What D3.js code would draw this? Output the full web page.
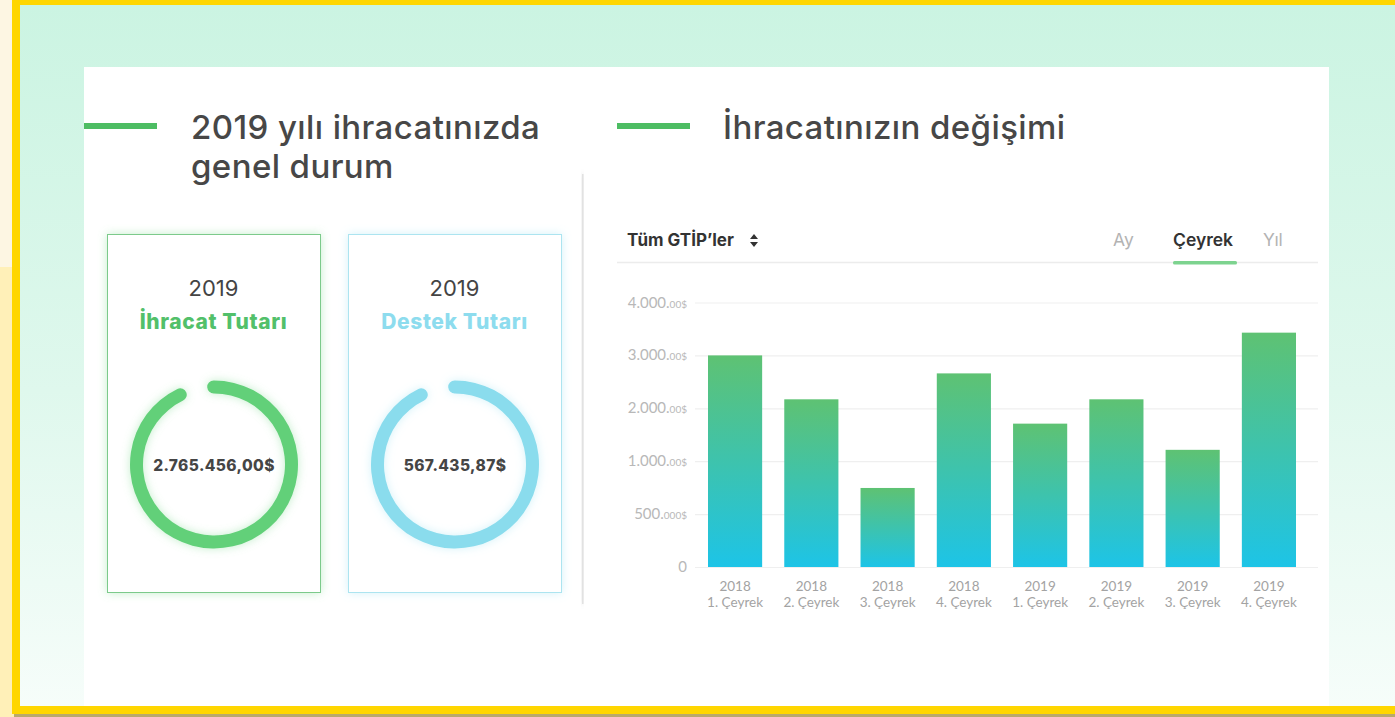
<!DOCTYPE html>
<html lang="tr">
    <head>
        <meta charset="utf-8">
        <title>İhracat</title>
        <script src="https://d3js.org/d3.v7.min.js"></script>
        <style type="text/css">
            body { margin: 0; overflow: hidden; }
            svg { display: block; }
        </style>
    </head>
    <body>
        <script type="text/javascript">

            //consts
            const w = 1395;
            const h = 717;
            const titleFont = "Inter, 'Noto Sans', sans-serif";
            const labelFont = "Lato, 'Open Sans', sans-serif";

            //data
            const years = ["2018", "2018", "2018", "2018", "2019", "2019", "2019", "2019"];
            const quarters = ["1. Çeyrek", "2. Çeyrek", "3. Çeyrek", "4. Çeyrek", "1. Çeyrek", "2. Çeyrek", "3. Çeyrek", "4. Çeyrek"];
            const values = [3000, 2170, 747, 2660, 1710, 2170, 1215, 3430]; // thousand $
            const tickValues = [0, 500, 1000, 2000, 3000, 4000];
            const tickMain = ["0", "500.", "1.000.", "2.000.", "3.000.", "4.000."];
            const tickSmall = ["", "000$", "00$", "00$", "00$", "00$"];
            const cardYear = ["2019", "2019"];
            const cardTitles = ["İhracat Tutarı", "Destek Tutarı"];
            const cardValues = ["2.765.456,00$", "567.435,87$"];
            const tabs = ["Ay", "Çeyrek", "Yıl"];

            const svg = d3.select("body")
                    .append("svg")
                    .attr("width", w)
                    .attr("height", h);

            const defs = svg.append("defs");

            const bgGrad = defs.append("linearGradient")
                    .attr("id", "bg").attr("x1", 0).attr("y1", 0).attr("x2", 0).attr("y2", 1);
            bgGrad.append("stop").attr("offset", "0%").attr("stop-color", "#cbf4e2");
            bgGrad.append("stop").attr("offset", "55%").attr("stop-color", "#dff8ed");
            bgGrad.append("stop").attr("offset", "100%").attr("stop-color", "#f6fdfa");

            const barGrad = defs.append("linearGradient")
                    .attr("id", "barGrad").attr("x1", 0).attr("y1", 0).attr("x2", 0).attr("y2", 1);
            barGrad.append("stop").attr("offset", "0%").attr("stop-color", "#5ec273");
            barGrad.append("stop").attr("offset", "100%").attr("stop-color", "#1dc4e7");

            //glow filters
            function glow(id, color, dev, op) {
                const f = defs.append("filter").attr("id", id)
                        .attr("x", "-30%").attr("y", "-30%").attr("width", "160%").attr("height", "160%");
                f.append("feGaussianBlur").attr("in", "SourceAlpha").attr("stdDeviation", dev).attr("result", "b");
                f.append("feFlood").attr("flood-color", color).attr("flood-opacity", op);
                f.append("feComposite").attr("in2", "b").attr("operator", "in").attr("result", "s");
                const m = f.append("feMerge");
                m.append("feMergeNode").attr("in", "s");
                m.append("feMergeNode").attr("in", "SourceGraphic");
            }
            glow("glowGreen", "#7dd98f", 5, 0.45);
            glow("glowBlue", "#9fe3f2", 5, 0.45);
            glow("shadow", "#aaaaaa", 2.5, 0.6);

            //frame + background
            svg.append("rect").attr("width", w).attr("height", h).attr("fill", "#fdf6e3");
            svg.append("rect").attr("x", 0).attr("y", 267).attr("width", 14).attr("height", h - 267).attr("fill", "#fff0b8");
            svg.append("rect").attr("x", 20).attr("y", 5).attr("width", w - 20).attr("height", 701).attr("fill", "url(#bg)");
            svg.append("rect").attr("x", 12).attr("y", 0).attr("width", w - 12).attr("height", 5).attr("fill", "#ffd600");
            svg.append("rect").attr("x", 12).attr("y", 0).attr("width", 8).attr("height", 714).attr("fill", "#ffd600");
            svg.append("rect").attr("x", 12).attr("y", 706).attr("width", w - 12).attr("height", 8).attr("fill", "#ffd600");
            svg.append("rect").attr("x", 14).attr("y", 714).attr("width", w - 14).attr("height", 3).attr("fill", "#b9a96c");

            //white panel
            svg.append("rect").attr("x", 84).attr("y", 67).attr("width", 1245).attr("height", 639).attr("fill", "#ffffff");

            //left column edge shadow
            svg.append("rect").attr("x", 582).attr("y", 174).attr("width", 1.5).attr("height", 430)
               .attr("fill", "#e2e2e2").attr("filter", "url(#shadow)");

            //section titles
            const titles = svg.append("g").attr("font-family", titleFont).attr("font-weight", 500)
                    .attr("font-size", 33).attr("letter-spacing", 0.4).attr("fill", "#474747");
            svg.append("rect").attr("x", 84).attr("y", 123).attr("width", 73).attr("height", 6).attr("fill", "#4dbd63");
            svg.append("rect").attr("x", 617).attr("y", 123).attr("width", 73).attr("height", 6).attr("fill", "#4dbd63");
            titles.append("text").attr("x", 191).attr("y", 139).text("2019 yılı ihracatınızda");
            titles.append("text").attr("x", 191).attr("y", 178).text("genel durum");
            titles.append("text").attr("x", 723).attr("y", 139).text("İhracatınızın değişimi");

            //cards
            const cardX = [107, 348];
            const cardW = 213;
            const cardStroke = ["#7cca8b", "#ace4f0"];
            const cardText = ["#52c06a", "#8ddcee"];
            const ringColor = ["#62d079", "#8adced"];
            const glows = ["glowGreen", "glowBlue"];

            const arc = d3.arc()
                    .innerRadius(71)
                    .outerRadius(84)
                    .cornerRadius(6.5)
                    .startAngle(-5 * Math.PI / 180)
                    .endAngle(339 * Math.PI / 180);

            const cards = svg.selectAll("g.card")
                    .data(cardTitles)
                    .enter()
                    .append("g")
                    .attr("class", "card")
                    .attr("transform", (d, i) => "translate(" + cardX[i] + ",234)");

            cards.append("rect")
                 .attr("x", 0.5).attr("y", 0.5)
                 .attr("width", cardW).attr("height", 358)
                 .attr("fill", "#ffffff")
                 .attr("stroke", (d, i) => cardStroke[i])
                 .attr("filter", (d, i) => "url(#" + glows[i] + ")");

            cards.append("text")
                 .attr("x", cardW / 2).attr("y", 62)
                 .attr("text-anchor", "middle")
                 .attr("font-family", titleFont).attr("font-size", 22)
                 .attr("fill", "#444").text((d, i) => cardYear[i]);

            cards.append("text")
                 .attr("x", cardW / 2).attr("y", 95)
                 .attr("text-anchor", "middle")
                 .attr("font-family", titleFont).attr("font-weight", 800).attr("font-size", 21)
                 .attr("letter-spacing", 0.6)
                 .attr("fill", (d, i) => cardText[i]).text(d => d);

            cards.append("path")
                 .attr("transform", "translate(" + (cardW / 2 + 0.5) + ",230.5)")
                 .attr("d", arc())
                 .attr("fill", (d, i) => ringColor[i])
                 .attr("filter", (d, i) => "url(#" + glows[i] + ")");

            cards.append("text")
                 .attr("x", cardW / 2 + 0.5).attr("y", 237)
                 .attr("text-anchor", "middle")
                 .attr("font-family", titleFont).attr("font-weight", 800).attr("font-size", 15.5)
                 .attr("letter-spacing", 0.4)
                 .attr("fill", "#454545").text((d, i) => cardValues[i]);

            //chart header
            svg.append("text").attr("x", 627).attr("y", 246)
               .attr("font-family", titleFont).attr("font-weight", 700).attr("font-size", 17)
               .attr("fill", "#333").text("Tüm GTİP’ler");
            svg.append("path").attr("d", "M750,239 L754,234 L758,239 Z M750,242 L754,247 L758,242 Z").attr("fill", "#333");

            const tabX = [1113, 1173, 1263];
            svg.selectAll("text.tab")
               .data(tabs)
               .enter()
               .append("text")
               .attr("class", "tab")
               .attr("x", (d, i) => tabX[i]).attr("y", 246)
               .attr("font-family", titleFont)
               .attr("font-size", 17.5)
               .attr("font-weight", (d, i) => i === 1 ? 600 : 400)
               .attr("fill", (d, i) => i === 1 ? "#333" : "#b3b3b3")
               .text(d => d);

            svg.append("line").attr("x1", 617).attr("x2", 1318).attr("y1", 262.5).attr("y2", 262.5)
               .attr("stroke", "#ececec").attr("stroke-width", 1.5);
            svg.append("rect").attr("x", 1173).attr("y", 261).attr("width", 64).attr("height", 3.5).attr("rx", 1.5)
               .attr("fill", "#7dd38f");

            //scales
            const xScale = d3.scaleBand()
                    .domain(d3.range(values.length))
                    .range([708, 1296])
                    .paddingInner(0.29)
                    .paddingOuter(0);

            const yScale = d3.scaleLinear()
                    .domain(tickValues)
                    .range(tickValues.map((t, i) => 567 - i * 52.9));

            //gridlines
            const leftAxis = d3.axisLeft(yScale)
                    .tickValues(tickValues)
                    .tickSize(-623)
                    .tickFormat("");
            const gAxis = svg.append("g")
               .attr("transform", "translate(695,0)")
               .call(leftAxis);
            gAxis.select(".domain").remove();
            gAxis.selectAll(".tick line").attr("stroke", "#efefef").attr("stroke-width", 1.2);

            //tick labels (big + small parts)
            const tl = svg.selectAll("text.ylab")
               .data(tickValues)
               .enter()
               .append("text")
               .attr("class", "ylab")
               .attr("x", 687)
               .attr("y", d => yScale(d) + 5)
               .attr("text-anchor", "end")
               .attr("font-family", labelFont)
               .attr("fill", "#b8b8b8");
            tl.append("tspan").attr("font-size", 15).text((d, i) => tickMain[i]);
            tl.append("tspan").attr("font-size", 10).text((d, i) => tickSmall[i]);

            //bars
            svg.selectAll("rect.bar")
               .data(values)
               .enter()
               .append("rect")
               .attr("class", "bar")
               .attr("x", (d, i) => xScale(i))
               .attr("y", d => yScale(d))
               .attr("width", xScale.bandwidth())
               .attr("height", d => yScale(0) - yScale(d))
               .attr("fill", "url(#barGrad)");

            //x labels
            const xl = svg.selectAll("text.xlab")
               .data(values)
               .enter()
               .append("text")
               .attr("class", "xlab")
               .attr("text-anchor", "middle")
               .attr("font-family", labelFont)
               .attr("font-size", 13.5)
               .attr("fill", "#a3a3a3");
            xl.append("tspan")
              .attr("x", (d, i) => xScale(i) + xScale.bandwidth() / 2)
              .attr("y", 591)
              .text((d, i) => years[i]);
            xl.append("tspan")
              .attr("x", (d, i) => xScale(i) + xScale.bandwidth() / 2)
              .attr("y", 607)
              .text((d, i) => quarters[i]);
        </script>
    </body>
</html>
